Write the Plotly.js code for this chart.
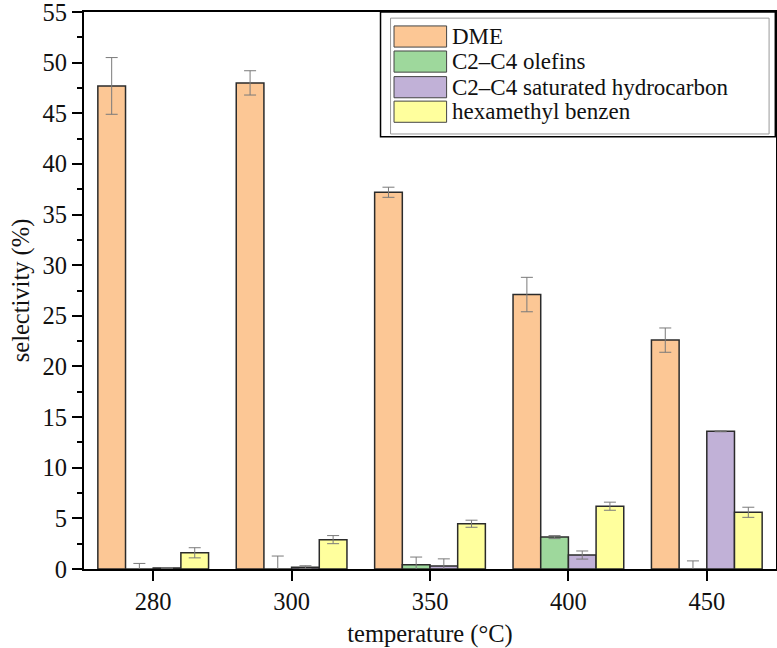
<!DOCTYPE html>
<html><head><meta charset="utf-8">
<script src="https://cdn.plot.ly/plotly-3.0.1.min.js"></script>
<style>html,body{margin:0;padding:0;background:#fff}#chart{width:777px;height:648px}</style>
</head><body><div id="chart"></div>
<script>
var categories = ["280", "300", "350", "400", "450"];
var seriesNames = ["DME", "C2\u2013C4 olefins", "C2\u2013C4 saturated hydrocarbon", "hexamethyl benzen"];
var dme = [47.7, 48.0, 37.2, 27.1, 22.6];
var dmeErr = [2.8, 1.2, 0.5, 1.7, 1.2];
var olefins = [0.0, 0.0, 0.43, 3.15, 0.0];
var olefinsErr = [0.55, 1.28, 0.75, 0.15, 0.8];
var saturated = [0.1, 0.17, 0.3, 1.38, 13.6];
var saturatedErr = [0.0, 0.15, 0.7, 0.4, 0.05];
var hmb = [1.6, 2.9, 4.47, 6.2, 5.6];
var hmbErr = [0.5, 0.4, 0.35, 0.4, 0.5];
var yTicks = [0, 5, 10, 15, 20, 25, 30, 35, 40, 45, 50, 55];

var colors = ["#FCC795", "#9ED89C", "#C1B1D7", "#FFFF9D"];
var values = [dme, olefins, saturated, hmb];
var errs = [dmeErr, olefinsErr, saturatedErr, hmbErr];
var font = "'Liberation Serif', 'Times New Roman', serif";
var fs = 24.5;
var legFs = 23;

var traces = values.map(function (v, i) {
  return {
    type: "bar", x: categories, y: v, name: seriesNames[i],
    marker: {color: colors[i], line: {color: "#2b2b2b", width: 1.5}},
    error_y: {type: "data", array: errs[i], visible: true, color: "#7a7a7a", thickness: 1, width: 6},
    showlegend: false
  };
});

// custom legend (box + swatches + labels)
var shapes = [
  {type: "rect", xref: "paper", yref: "paper", x0: 0.4285, x1: 0.999, y0: 0.776, y1: 1.0, line: {color: "#000", width: 1.5}, fillcolor: "#fff", layer: "above"},
  {type: "rect", xref: "paper", yref: "paper", x0: 0.443, x1: 0.990, y0: 0.781, y1: 0.989, line: {color: "#999", width: 1}, fillcolor: "rgba(0,0,0,0)", layer: "above"}
];
var annotations = [];
var rowY = [0.956, 0.911, 0.865, 0.821];
seriesNames.forEach(function (n, i) {
  shapes.push({type: "rect", xref: "paper", yref: "paper", x0: 0.448, x1: 0.524, y0: rowY[i] - 0.019, y1: rowY[i] + 0.019,
    line: {color: "#444", width: 1}, fillcolor: colors[i], layer: "above"});
  annotations.push({xref: "paper", yref: "paper", x: 0.530, y: rowY[i], xanchor: "left", yanchor: "middle",
    text: n, showarrow: false, borderpad: 0, font: {family: font, size: legFs, color: "#111"}});
});

var layout = {
  width: 777, height: 648,
  margin: {l: 84, r: 1, t: 12, b: 79},
  paper_bgcolor: "#fff", plot_bgcolor: "#fff",
  barmode: "group", bargap: 0.2, bargroupgap: 0,
  font: {family: font, size: fs, color: "#111"},
  xaxis: {
    type: "category", range: [-0.5, 4.5],
    showline: true, linecolor: "#000", linewidth: 2, mirror: true,
    ticks: "outside", ticklen: 10, tickwidth: 2, tickcolor: "#000",
    showgrid: false, zeroline: false,
    tickfont: {family: font, size: fs, color: "#111"},
    title: {text: "temperature (\u00B0C)", font: {family: font, size: fs, color: "#111"}, standoff: 10}
  },
  yaxis: {
    range: [0, 55.0001], tickvals: yTicks, ticktext: yTicks.map(String),
    ticklabeloverflow: "allow",
    showline: true, linecolor: "#000", linewidth: 2, mirror: true,
    ticks: "outside", ticklen: 10, tickwidth: 2, tickcolor: "#000",
    minor: {dtick: 2.5, tick0: 0, ticks: "outside", ticklen: 5, tickwidth: 2, tickcolor: "#000", showgrid: false},
    showgrid: false, zeroline: false,
    tickfont: {family: font, size: fs, color: "#111"},
    title: {text: "selectivity (%)", font: {family: font, size: fs, color: "#111"}, standoff: 6}
  },
  shapes: shapes,
  annotations: annotations
};

Plotly.newPlot("chart", traces, layout, {displayModeBar: false, staticPlot: true});
</script>
</body></html>
